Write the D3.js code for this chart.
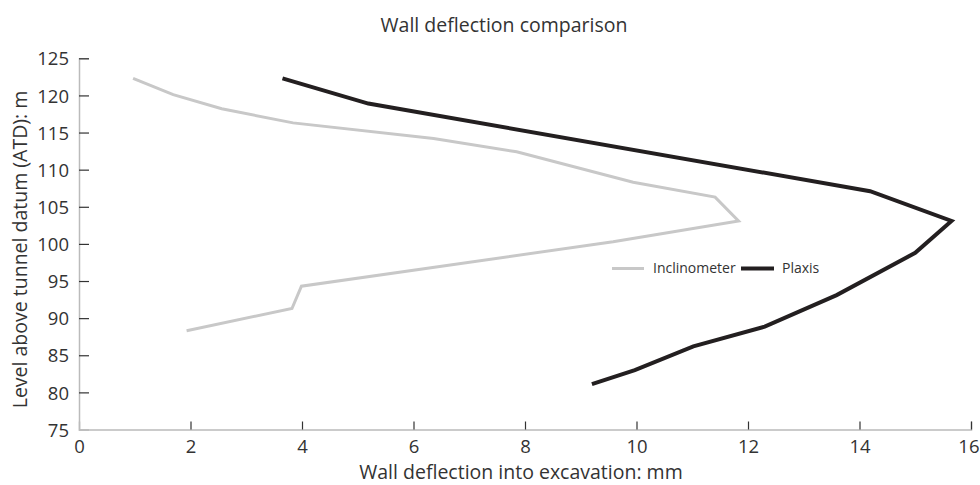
<!DOCTYPE html>
<html>
<head>
<meta charset="utf-8">
<script src="https://cdn.jsdelivr.net/npm/d3@7"></script>
<style>
  body { margin: 0; background: #fff; }
  svg text { font-family: "Open Sans", sans-serif; fill: #333; }
</style>
</head>
<body>
<div id="chart"></div>
<script>
// data: deflection (mm) vs level (m ATD)
var inclDefl  = [0.97, 1.69, 2.56, 3.84, 6.36, 7.85, 9.94, 11.41, 11.83, 9.58, 3.99, 3.82, 1.93];
var inclLevel = [122.3, 120.1, 118.2, 116.3, 114.2, 112.4, 108.3, 106.3, 103.1, 100.3, 94.3, 91.3, 88.3];
var plaxDefl  = [3.65, 5.19, 14.19, 15.65, 15.0, 13.59, 12.3, 11.02, 9.97, 9.2];
var plaxLevel = [122.3, 118.9, 107.1, 103.1, 98.8, 93.1, 88.85, 86.2, 83.0, 81.1];
var xTicks = [0, 2, 4, 6, 8, 10, 12, 14, 16];
var yTicks = [75, 80, 85, 90, 95, 100, 105, 110, 115, 120, 125];
var seriesNames = ["Inclinometer", "Plaxis"];

function draw(){
	var w = 980, h = 485;
	var svg = d3.select("#chart").append("svg").attr("width", w).attr("height", h);

	var x = d3.scaleLinear().domain([0, 16]).range([79, 971]);
	var y = d3.scaleLinear().domain([75, 125]).range([429.5, 58.3]);

	// title
	svg.append("text").attr("x", 504).attr("y", 32).attr("text-anchor", "middle")
		.attr("font-size", 19.5).text("Wall deflection comparison");

	// y axis, ticks pointing inwards
	var yAxis = svg.append("g").attr("transform", "translate(79,0)")
		.call(d3.axisLeft(y).tickValues(yTicks).tickSize(-10).tickPadding(10));
	yAxis.attr("font-size", null).attr("font-family", null);
	yAxis.select(".domain").attr("stroke", "#bbb").attr("stroke-width", 1.5);
	yAxis.selectAll(".tick line").attr("stroke", "#333").attr("stroke-width", 1.2);
	yAxis.selectAll(".tick text").attr("font-size", 18.5).attr("dy", "0.36em");
	yAxis.selectAll(".tick").filter(function(d){ return d == 75; }).select("line").remove();

	// x axis
	var xAxis = svg.append("g").attr("transform", "translate(0,429.5)")
		.call(d3.axisBottom(x).tickValues(xTicks).tickSize(-8).tickPadding(10));
	xAxis.attr("font-size", null).attr("font-family", null);
	xAxis.select(".domain").attr("stroke", "#bbb").attr("stroke-width", 1.5);
	xAxis.selectAll(".tick line").attr("stroke", "#333").attr("stroke-width", 1.2);
	xAxis.selectAll(".tick text").attr("font-size", 18.5);
	xAxis.selectAll(".tick").filter(function(d){ return d == 0; }).select("line").remove();
	// last label would run off the page edge, keep it inside
	xAxis.selectAll(".tick").filter(function(d){ return d == 16; }).select("text")
		.attr("text-anchor", "end").attr("x", w - 971 - 1);

	// axis titles
	svg.append("text").attr("x", 521).attr("y", 479).attr("text-anchor", "middle")
		.attr("font-size", 19.5).text("Wall deflection into excavation: mm");
	svg.append("text").attr("transform", "translate(26.5,249.5) rotate(-90)").attr("text-anchor", "middle")
		.attr("font-size", 19.5).text("Level above tunnel datum (ATD): m");

	var line = d3.line().x(function(d){ return x(d[0]); }).y(function(d){ return y(d[1]); });

	var incl = d3.zip(inclDefl, inclLevel);
	var plax = d3.zip(plaxDefl, plaxLevel);

	svg.append("path").datum(incl).attr("d", line)
		.attr("fill", "none").attr("stroke", "#c8c8c8").attr("stroke-width", 3);
	svg.append("path").datum(plax).attr("d", line)
		.attr("fill", "none").attr("stroke", "#231f20").attr("stroke-width", 4);

	// legend
	var lg = svg.append("g").attr("transform", "translate(612,268.5)");
	lg.append("line").attr("x1", 0).attr("x2", 32).attr("stroke", "#c8c8c8").attr("stroke-width", 3);
	lg.append("text").attr("x", 41).attr("dy", "0.35em").attr("font-size", 14).text(seriesNames[0]);
	lg.append("line").attr("x1", 129).attr("x2", 162).attr("stroke", "#231f20").attr("stroke-width", 4);
	lg.append("text").attr("x", 170).attr("dy", "0.35em").attr("font-size", 14).text(seriesNames[1]);
}
draw();
</script>
</body>
</html>
